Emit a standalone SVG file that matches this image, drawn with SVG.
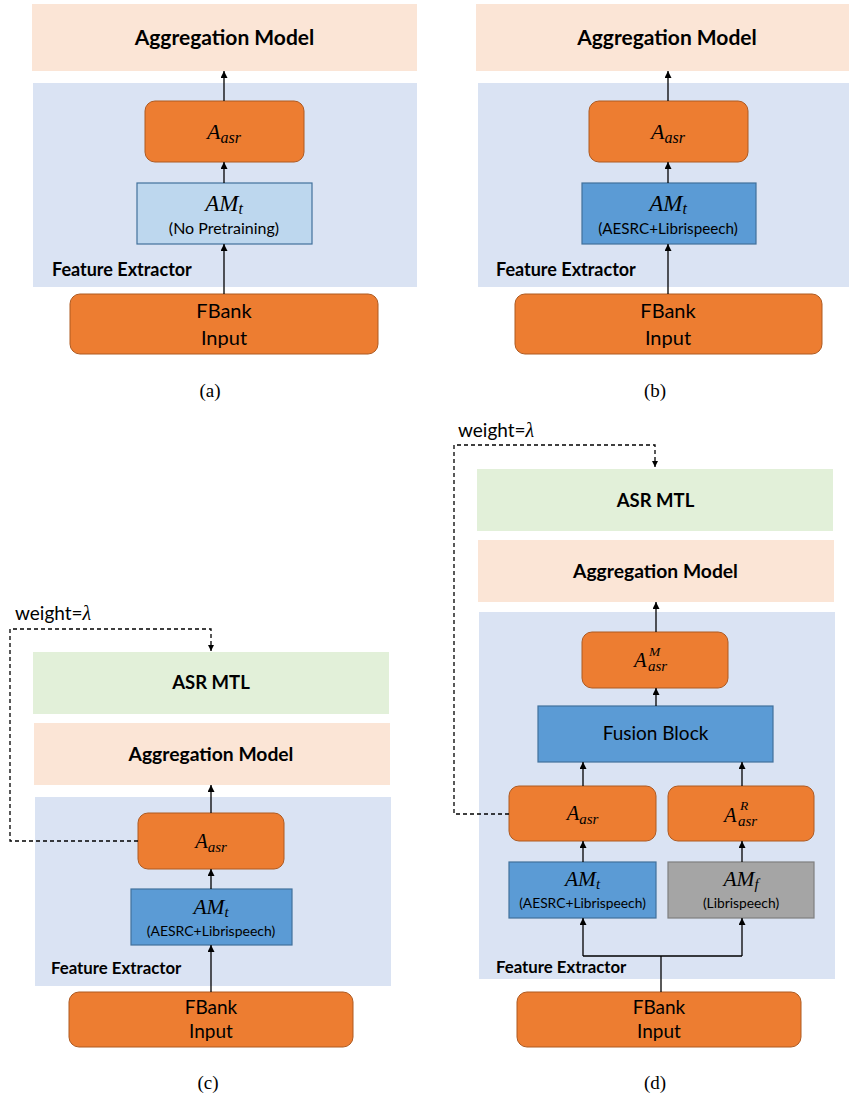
<svg xmlns="http://www.w3.org/2000/svg" width="850" height="1097" viewBox="0 0 850 1097">
<defs>
<marker id="ah" viewBox="0 0 10 10" refX="10" refY="5" markerWidth="8" markerHeight="7" markerUnits="userSpaceOnUse" orient="auto"><path d="M0,0 L10,5 L0,10 z" fill="#000"/></marker>
<marker id="ahs" viewBox="0 0 10 10" refX="10" refY="5" markerWidth="7" markerHeight="6" markerUnits="userSpaceOnUse" orient="auto"><path d="M0,0 L10,5 L0,10 z" fill="#000"/></marker>
</defs>
<style>
.agg{fill:#FBE5D6}
.fe{fill:#DAE3F3}
.mtl{fill:#E2F0D9}
.or{fill:#ED7D31;stroke:#AE5A21;stroke-width:1}
.lb{fill:#BDD7EE;stroke:#41719C;stroke-width:1.2}
.bl{fill:#5B9BD5;stroke:#41719C;stroke-width:1.2}
.gr{fill:#A5A5A5;stroke:#7F7F7F;stroke-width:1.2}
.t{font-family:Lato,"Liberation Sans",sans-serif;fill:#000}
.b{font-weight:bold}
.m{font-family:"Liberation Serif",serif;font-style:italic;fill:#000}
.cap{font-family:"Liberation Serif",serif;fill:#000;font-size:19px;text-anchor:middle}
.c{text-anchor:middle}
.ln{stroke:#000;stroke-width:1.3;fill:none}
.ds{stroke:#000;stroke-width:1.3;fill:none;stroke-dasharray:4 3}
</style>

<!-- ===== Panel (a) ===== -->
<g id="a-agg"><rect class="agg" x="32" y="4" width="385" height="67"/><text class="t b c" x="224.5" y="45" font-size="21">Aggregation Model</text></g>
<g id="a-fe"><rect class="fe" x="33" y="83" width="384" height="204"/><text class="t b" x="52" y="276" font-size="18">Feature Extractor</text></g>
<g id="a-aasr"><rect class="or" x="145" y="101" width="159" height="61" rx="10"/><text class="m c" x="224" y="139" font-size="22">A<tspan font-size="16" dy="4">asr</tspan></text></g>
<g id="a-amt"><rect class="lb" x="137" y="183" width="175" height="61"/><text class="m c" x="224" y="211" font-size="23">AM<tspan font-size="16" dy="2.5">t</tspan></text><text class="t c" x="224" y="234" font-size="16">(No Pretraining)</text></g>
<g id="a-fbank"><rect class="or" x="70" y="294" width="308" height="60" rx="10"/><text class="t c" x="224" y="318" font-size="20">FBank</text><text class="t c" x="224" y="345" font-size="20">Input</text></g>
<text class="cap" x="210" y="397">(a)</text>

<!-- ===== Panel (b) ===== -->
<g id="b-agg"><rect class="agg" x="476" y="4" width="373" height="67"/><text class="t b c" x="667" y="45" font-size="21">Aggregation Model</text></g>
<g id="b-fe"><rect class="fe" x="478" y="83" width="371" height="204"/><text class="t b" x="496" y="276" font-size="18">Feature Extractor</text></g>
<g id="b-aasr"><rect class="or" x="589" y="101" width="159" height="61" rx="10"/><text class="m c" x="668" y="139" font-size="22">A<tspan font-size="16" dy="4">asr</tspan></text></g>
<g id="b-amt"><rect class="bl" x="582" y="183" width="174" height="61"/><text class="m c" x="668" y="211" font-size="23">AM<tspan font-size="16" dy="2.5">t</tspan></text><text class="t c" x="668" y="234" font-size="15.2">(AESRC+Librispeech)</text></g>
<g id="b-fbank"><rect class="or" x="515" y="294" width="307" height="60" rx="10"/><text class="t c" x="668" y="318" font-size="20">FBank</text><text class="t c" x="668" y="345" font-size="20">Input</text></g>
<text class="cap" x="655" y="397">(b)</text>

<!-- ===== Panel (c) ===== -->
<g id="c-mtl"><rect class="mtl" x="33" y="652" width="356" height="62"/><text class="t b c" x="211" y="689" font-size="18.5">ASR MTL</text></g>
<g id="c-agg"><rect class="agg" x="34" y="723" width="356" height="62"/><text class="t b c" x="211" y="761" font-size="19.3">Aggregation Model</text></g>
<g id="c-fe"><rect class="fe" x="35" y="797" width="356" height="189"/><text class="t b" x="51" y="974" font-size="16.8">Feature Extractor</text></g>
<g id="c-aasr"><rect class="or" x="138" y="813" width="146" height="56" rx="10"/><text class="m c" x="211" y="848" font-size="20.5">A<tspan font-size="15" dy="4">asr</tspan></text></g>
<g id="c-amt"><rect class="bl" x="131" y="889" width="161" height="56"/><text class="m c" x="211" y="914" font-size="21.5">AM<tspan font-size="15" dy="2.5">t</tspan></text><text class="t c" x="211" y="936" font-size="14">(AESRC+Librispeech)</text></g>
<g id="c-fbank"><rect class="or" x="69" y="992" width="284" height="55" rx="10"/><text class="t c" x="211" y="1014" font-size="19">FBank</text><text class="t c" x="211" y="1038" font-size="19">Input</text></g>
<text class="t" x="15" y="620" font-size="19">weight=<tspan class="m" font-size="20">λ</tspan></text>
<text class="cap" x="208" y="1089">(c)</text>

<!-- ===== Panel (d) ===== -->
<g id="d-mtl"><rect class="mtl" x="477" y="469" width="356" height="62"/><text class="t b c" x="655.5" y="507" font-size="18.5">ASR MTL</text></g>
<g id="d-agg"><rect class="agg" x="478" y="540" width="356" height="62"/><text class="t b c" x="655.5" y="578" font-size="19.3">Aggregation Model</text></g>
<g id="d-fe"><rect class="fe" x="479" y="612" width="356" height="367"/><text class="t b" x="496" y="973" font-size="16.8">Feature Extractor</text></g>
<g id="d-aasrm"><rect class="or" x="582" y="632" width="146" height="56" rx="10"/><text class="m" x="634" y="667" font-size="20.5">A</text><text class="m" x="649" y="656" font-size="13.5">M</text><text class="m" x="648" y="671" font-size="15">asr</text></g>
<g id="d-fusion"><rect class="bl" x="538" y="706" width="235" height="56"/><text class="t c" x="655.5" y="740" font-size="19">Fusion Block</text></g>
<g id="d-aasr"><rect class="or" x="509" y="786" width="147" height="55" rx="10"/><text class="m c" x="582.5" y="820" font-size="20.5">A<tspan font-size="15" dy="4">asr</tspan></text></g>
<g id="d-aasrr"><rect class="or" x="668" y="786" width="146" height="55" rx="10"/><text class="m" x="724" y="822" font-size="20.5">A</text><text class="m" x="740" y="810" font-size="13.5">R</text><text class="m" x="738" y="826" font-size="15">asr</text></g>
<g id="d-amt"><rect class="bl" x="509" y="862" width="147" height="56"/><text class="m c" x="582.5" y="886" font-size="21.5">AM<tspan font-size="15" dy="2.5">t</tspan></text><text class="t c" x="582.5" y="908" font-size="13.8">(AESRC+Librispeech)</text></g>
<g id="d-amf"><rect class="gr" x="668" y="862" width="146" height="56"/><text class="m c" x="741" y="886" font-size="21.5">AM<tspan font-size="15" dy="2.5">f</tspan></text><text class="t c" x="741" y="908" font-size="13.8">(Librispeech)</text></g>
<g id="d-fbank"><rect class="or" x="517" y="992" width="284" height="55" rx="10"/><text class="t c" x="659" y="1014" font-size="19">FBank</text><text class="t c" x="659" y="1038" font-size="19">Input</text></g>
<text class="t" x="458" y="437" font-size="19">weight=<tspan class="m" font-size="20">λ</tspan></text>
<text class="cap" x="655" y="1089">(d)</text>

<!-- ===== Connectors ===== -->
<g id="connectors">
<line class="ln" x1="224" y1="294" x2="224" y2="244" marker-end="url(#ah)"/>
<line class="ln" x1="224" y1="183" x2="224" y2="162" marker-end="url(#ah)"/>
<line class="ln" x1="224" y1="101" x2="224" y2="71" marker-end="url(#ah)"/>
<line class="ln" x1="668" y1="294" x2="668" y2="244" marker-end="url(#ah)"/>
<line class="ln" x1="668" y1="183" x2="668" y2="162" marker-end="url(#ah)"/>
<line class="ln" x1="668" y1="101" x2="668" y2="71" marker-end="url(#ah)"/>
<line class="ln" x1="211" y1="992" x2="211" y2="945" marker-end="url(#ah)"/>
<line class="ln" x1="211" y1="889" x2="211" y2="869" marker-end="url(#ah)"/>
<line class="ln" x1="211" y1="813" x2="211" y2="785" marker-end="url(#ah)"/>
<path class="ds" d="M138,841 H10 V629 H211 V651" marker-end="url(#ahs)"/>
<line class="ln" x1="656" y1="632" x2="656" y2="602" marker-end="url(#ah)"/>
<line class="ln" x1="656" y1="706" x2="656" y2="688" marker-end="url(#ah)"/>
<line class="ln" x1="583" y1="786" x2="583" y2="762" marker-end="url(#ah)"/>
<line class="ln" x1="742" y1="786" x2="742" y2="762" marker-end="url(#ah)"/>
<line class="ln" x1="583" y1="862" x2="583" y2="841" marker-end="url(#ah)"/>
<line class="ln" x1="742" y1="862" x2="742" y2="841" marker-end="url(#ah)"/>
<line class="ln" x1="661" y1="992" x2="661" y2="956"/>
<path class="ln" d="M583,956 H742"/>
<line class="ln" x1="583" y1="956" x2="583" y2="918" marker-end="url(#ah)"/>
<line class="ln" x1="742" y1="956" x2="742" y2="918" marker-end="url(#ah)"/>
<path class="ds" d="M509,814 H454 V445 H655 V467" marker-end="url(#ahs)"/>
</g>
</svg>
